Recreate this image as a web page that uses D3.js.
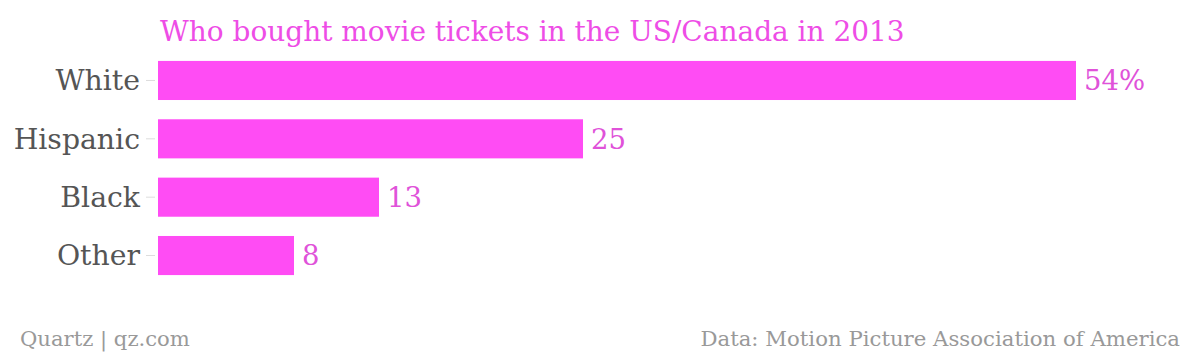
<!DOCTYPE html>
<html><head><meta charset="utf-8">
<script src="https://cdn.jsdelivr.net/npm/d3@7"></script>
<style>body{margin:0;background:#fff}svg{display:block}</style>
</head><body>
<script>
const categories = ["White", "Hispanic", "Black", "Other"];
const values = [54, 25, 13, 8];
const valueLabels = ["54%", "25", "13", "8"];
const title = "Who bought movie tickets in the US/Canada in 2013";
const sourceLeft = "Quartz | qz.com";
const sourceRight = "Data: Motion Picture Association of America";

const W = 1199, H = 355;
const font = "'DejaVu Serif', serif";
const svg = d3.select("body").append("svg").attr("width", W).attr("height", H);

const x = d3.scaleLinear().domain([0, 54]).range([158, 1076]);
const y = d3.scaleBand().domain(categories).range([51, 285]).paddingInner(0.33).paddingOuter(0.17);

function fit(sel, target) {
  const n = sel.node();
  const w = n.getComputedTextLength();
  const fs = parseFloat(sel.attr("font-size"));
  sel.attr("font-size", fs * target / w);
}

const t = svg.append("text").attr("x", 160).attr("y", 41).attr("font-family", font)
  .attr("font-size", 30).attr("fill", "#ee4de6").text(title);
fit(t, 745);

svg.append("g").selectAll("rect").data(categories).join("rect")
  .attr("x", x(0)).attr("y", d => y(d))
  .attr("width", (d, i) => x(values[i]) - x(0))
  .attr("height", y.bandwidth()).attr("fill", "#ff4cf4");

const ax = svg.append("g").attr("transform", `translate(${x(0)},0)`)
  .call(d3.axisLeft(y).tickSize(12).tickPadding(6));
ax.select(".domain").remove();
ax.selectAll(".tick line").attr("stroke", "#ddd").attr("x2", -3).attr("x1", -12);
ax.selectAll(".tick text").attr("font-family", font).attr("font-size", 28.3)
  .attr("fill", "#555").attr("dy", "0.35em").attr("x", -18);

svg.append("g").selectAll("text").data(categories).join("text")
  .attr("x", (d, i) => x(values[i]) + 8)
  .attr("y", d => y(d) + y.bandwidth() / 2)
  .attr("dy", "0.36em")
  .attr("font-family", font).attr("font-size", 27.5).attr("fill", "#e052d9")
  .text((d, i) => valueLabels[i]);

const s1 = svg.append("text").attr("x", 20).attr("y", 346).attr("font-family", font)
  .attr("font-size", 19).attr("fill", "#999").text(sourceLeft);
fit(s1, 170);
const s2 = svg.append("text").attr("x", 1180).attr("y", 346).attr("text-anchor", "end")
  .attr("font-family", font).attr("font-size", 19).attr("fill", "#999").text(sourceRight);
fit(s2, 480);
</script>
</body></html>
